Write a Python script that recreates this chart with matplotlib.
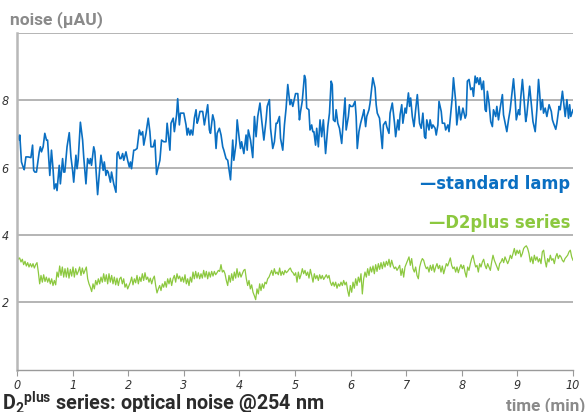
import numpy as np
import matplotlib
matplotlib.use("Agg")
import matplotlib.pyplot as plt
from matplotlib import font_manager

# --- data ------------------------------------------------------------------
# standard lamp (blue): time [min], noise [uAU]
lamp_t = [
    0.01, 0.04, 0.05, 0.08, 0.11, 0.13, 0.16, 0.20, 0.25, 0.28, 0.30, 0.32, 0.35, 0.40, 0.42, 0.44,
    0.47, 0.50, 0.53, 0.55, 0.59, 0.62, 0.65, 0.67, 0.70, 0.72, 0.76, 0.78, 0.82, 0.84, 0.86, 0.90,
    0.94, 0.97, 1.00, 1.02, 1.06, 1.08, 1.10, 1.14, 1.18, 1.20, 1.24, 1.27, 1.30, 1.32, 1.34, 1.38,
    1.40, 1.45, 1.49, 1.51, 1.55, 1.57, 1.60, 1.62, 1.64, 1.68, 1.70, 1.74, 1.78, 1.80, 1.82, 1.85,
    1.87, 1.90, 1.92, 1.96, 1.99, 2.02, 2.04, 2.06, 2.10, 2.12, 2.16, 2.20, 2.23, 2.26, 2.28, 2.32,
    2.36, 2.39, 2.41, 2.45, 2.48, 2.51, 2.54, 2.57, 2.60, 2.64, 2.68, 2.70, 2.72, 2.75, 2.77, 2.81,
    2.83, 2.87, 2.89, 2.92, 2.94, 2.96, 3.00, 3.04, 3.06, 3.08, 3.11, 3.13, 3.16, 3.19, 3.22, 3.24,
    3.26, 3.29, 3.31, 3.34, 3.37, 3.43, 3.46, 3.48, 3.52, 3.55, 3.58, 3.60, 3.64, 3.67, 3.70, 3.72,
    3.76, 3.79, 3.84, 3.88, 3.90, 3.94, 3.96, 4.00, 4.02, 4.04, 4.08, 4.12, 4.14, 4.16, 4.20, 4.24,
    4.27, 4.30, 4.33, 4.37, 4.40, 4.44, 4.48, 4.50, 4.54, 4.56, 4.60, 4.63, 4.66, 4.68, 4.72, 4.74,
    4.78, 4.81, 4.84, 4.87, 4.91, 4.93, 4.96,
    5.01, 5.05, 5.08, 5.10, 5.13, 5.17, 5.19, 5.21, 5.25, 5.27, 5.30, 5.32, 5.34, 5.37, 5.39, 5.42,
    5.45, 5.48, 5.51, 5.55, 5.59, 5.62, 5.65, 5.67, 5.69, 5.72, 5.74, 5.77, 5.80, 5.84, 5.87, 5.90,
    5.92, 5.96, 5.98, 6.00, 6.04, 6.08, 6.10, 6.12, 6.15, 6.18, 6.22, 6.24, 6.27, 6.29, 6.33, 6.35,
    6.40, 6.44, 6.46, 6.48, 6.52, 6.54, 6.57, 6.59, 6.63, 6.65, 6.69, 6.71, 6.75, 6.79, 6.81, 6.85,
    6.87, 6.89, 6.92, 6.94, 6.98, 7.00, 7.04, 7.06, 7.08, 7.11, 7.14, 7.17, 7.20, 7.24, 7.27, 7.30,
    7.33, 7.35, 7.37, 7.41, 7.43, 7.46, 7.48, 7.52, 7.54, 7.57, 7.59, 7.63, 7.65, 7.69, 7.71, 7.75,
    7.77, 7.79, 7.83, 7.85, 7.89, 7.91, 7.95, 7.98, 8.02, 8.06, 8.08, 8.10, 8.13, 8.16, 8.19, 8.21,
    8.24, 8.26, 8.28, 8.31, 8.33, 8.36, 8.39, 8.42, 8.44, 8.46, 8.49, 8.52, 8.55, 8.57, 8.61, 8.63,
    8.66, 8.69, 8.73, 8.75, 8.78, 8.81, 8.84, 8.87, 8.91, 8.93, 8.96, 8.98, 9.02, 9.04, 9.06, 9.09,
    9.11, 9.15, 9.17, 9.20, 9.22, 9.26, 9.28, 9.32, 9.35, 9.38, 9.40, 9.42, 9.45, 9.47, 9.50, 9.53,
    9.57, 9.61, 9.63, 9.65, 9.69, 9.71, 9.75, 9.77, 9.81, 9.83, 9.86, 9.89, 9.92, 9.94, 9.96, 10.00,
]
lamp_noise = [
    6.97, 6.82, 6.97, 6.17, 6.02, 5.94, 6.32, 6.32, 6.30, 6.67, 5.92, 5.87, 5.87, 6.47, 6.62, 6.47,
    6.62, 7.02, 6.82, 6.82, 5.77, 6.52, 5.92, 5.37, 5.52, 5.32, 6.07, 5.52, 6.27, 5.87, 5.87, 6.62,
    7.04, 6.32, 5.92, 5.57, 6.37, 5.97, 6.22, 7.35, 6.82, 6.32, 5.52, 6.27, 6.12, 6.27, 6.07, 6.62,
    6.47, 5.20, 6.02, 6.37, 5.92, 6.17, 5.77, 5.92, 5.87, 5.57, 5.87, 5.52, 5.27, 6.42, 6.47, 6.27,
    6.27, 6.42, 6.22, 6.47, 6.22, 6.02, 6.17, 5.97, 6.52, 6.52, 6.57, 7.12, 6.97, 7.07, 6.67, 7.02,
    7.47, 7.07, 6.62, 6.62, 6.82, 5.80, 6.02, 6.22, 6.82, 6.77, 6.77, 7.32, 7.02, 6.52, 7.32, 7.47,
    7.07, 7.57, 8.05, 7.27, 7.62, 7.62, 7.62, 7.27, 6.97, 7.17, 6.97, 7.12, 6.97, 7.47, 7.72, 7.32,
    7.42, 7.67, 7.67, 7.67, 7.27, 7.87, 7.12, 7.02, 7.57, 7.37, 6.57, 7.02, 7.17, 6.97, 6.62, 6.52,
    6.27, 6.22, 5.64, 6.82, 6.22, 6.72, 7.42, 6.82, 6.57, 6.77, 6.42, 6.97, 6.52, 7.12, 6.82, 6.30,
    7.52, 6.92, 7.52, 7.92, 7.42, 6.82, 7.42, 7.82, 8.02, 7.17, 6.57, 6.77, 7.32, 7.32, 7.52, 6.87,
    6.52, 7.27, 7.77, 8.47, 7.87, 8.02, 7.82,
    8.20, 8.20, 7.42, 7.67, 7.97, 8.74, 8.62, 7.77, 7.72, 7.12, 7.27, 7.07, 7.07, 6.67, 7.17, 6.62,
    7.42, 6.92, 7.42, 6.42, 7.22, 7.62, 8.57, 8.47, 7.42, 7.37, 7.72, 7.32, 7.17, 6.72, 7.42, 8.07,
    7.12, 7.52, 7.87, 7.82, 7.82, 7.97, 7.52, 6.57, 7.07, 7.32, 7.57, 7.72, 7.22, 7.52, 7.72, 7.92,
    8.67, 8.37, 7.87, 7.62, 7.47, 7.12, 6.57, 7.27, 7.37, 7.22, 7.02, 7.62, 7.92, 7.32, 6.92, 7.42,
    7.12, 7.57, 7.87, 7.32, 7.77, 7.62, 8.22, 7.82, 8.07, 7.52, 7.22, 7.72, 8.17, 7.32, 7.17, 7.62,
    6.92, 6.87, 7.42, 7.12, 7.42, 7.17, 7.27, 7.17, 6.97, 7.27, 7.97, 7.67, 7.32, 7.32, 7.12, 7.27,
    7.07, 7.42, 8.12, 8.67, 7.97, 7.27, 7.82, 7.42, 7.77, 7.47, 7.57, 8.57, 8.62, 8.32, 8.37, 8.12,
    8.72, 8.52, 8.67, 8.47, 8.67, 8.32, 8.57, 7.72, 7.67, 8.27, 7.92, 7.37, 7.22, 7.72, 7.52, 7.82,
    7.42, 7.77, 8.17, 7.57, 7.32, 7.07, 7.42, 7.72, 8.32, 8.64, 8.02, 7.42, 7.72, 7.57, 8.07, 8.62,
    8.22, 7.37, 7.57, 8.07, 8.42, 7.72, 7.37, 7.07, 7.72, 8.62, 8.22, 7.72, 8.02, 7.62, 7.77, 7.52,
    7.87, 7.67, 7.42, 7.32, 7.14, 7.32, 7.82, 7.72, 8.27, 7.97, 7.52, 8.02, 7.47, 7.87, 7.52, 7.72,
]

# D2plus series (green): evenly sampled over 0..10 min
d2plus_noise = [
    3.40, 3.28, 3.32, 3.20, 3.28, 3.12, 3.22, 3.08, 3.18, 3.05, 3.15, 3.05, 3.15, 3.02, 3.12, 3.18,
    2.90, 2.55, 2.80, 2.60, 2.82, 2.62, 2.75, 2.60, 2.72, 2.55, 2.70, 2.50, 2.65, 2.52, 2.90,
    2.75, 3.08, 2.80, 3.05, 2.75, 3.00, 2.75, 3.02, 2.72, 2.98, 2.78, 3.05, 2.75, 3.00, 2.82, 2.92,
    3.05, 2.80, 3.02, 2.85, 2.95, 3.05,
    2.70, 2.55, 2.45, 2.32, 2.55, 2.40, 2.65, 2.52, 2.70, 2.55, 2.75, 2.60, 2.85, 2.62, 2.82, 2.55,
    2.85, 2.60, 2.80, 2.55, 2.75, 2.52, 2.72, 2.50, 2.70, 2.75, 2.55, 2.70, 2.45, 2.55, 2.40,
    2.50, 2.60, 2.75, 2.52, 2.70, 2.58, 2.80, 2.55, 2.75, 2.62, 2.85, 2.65, 2.88, 2.68, 2.75, 2.60,
    2.72, 2.55, 2.70, 2.78,
    2.50, 2.28, 2.40, 2.50, 2.35, 2.55, 2.45, 2.62, 2.45, 2.70, 2.55, 2.72, 2.50, 2.70, 2.80, 2.60,
    2.85, 2.70, 2.78, 2.62, 2.75, 2.60, 2.82,
    2.55, 2.70, 2.50, 2.75, 2.60, 2.90, 2.70, 2.92, 2.72, 2.88, 2.70, 2.85, 2.72, 2.95, 2.75, 2.92,
    2.70, 2.90, 2.75, 2.92, 2.78, 2.92, 2.82, 2.88, 2.95, 2.92, 3.12, 2.90, 2.95,
    2.85, 2.65, 2.50, 2.80, 2.60, 2.85, 2.65, 2.90, 2.72, 3.00, 2.75, 2.90, 2.75, 2.85, 2.95, 2.98,
    2.70, 2.50, 2.65, 2.40, 2.52, 2.30, 2.20, 2.08, 2.40, 2.25, 2.55, 2.35, 2.55, 2.42, 2.60, 2.55,
    2.70, 2.75,
    2.85, 2.95, 2.80, 3.00, 2.85, 2.90, 2.82, 3.02, 2.80, 2.92, 2.82, 2.95, 2.88, 2.92, 2.98, 3.02,
    2.92, 2.88, 2.80, 2.88,
    2.60, 2.90, 2.70, 2.82, 3.00, 2.85, 2.95, 2.80, 2.90, 2.72, 2.98, 2.80, 2.60, 2.85, 2.70, 2.80,
    2.65, 2.82, 2.70, 2.80, 2.68, 2.75, 2.82, 2.72, 2.80, 2.60,
    2.50, 2.60, 2.48, 2.60, 2.42, 2.55, 2.48, 2.60, 2.50, 2.65, 2.52, 2.60, 2.35, 2.18, 2.50, 2.30,
    2.60, 2.42, 2.70, 2.50, 2.75, 2.60, 2.85, 2.25, 2.70, 2.90, 2.75, 3.00, 2.80, 3.05, 2.90, 3.08,
    2.85, 3.12, 2.92, 3.15, 2.98, 3.18, 3.00, 3.20, 3.05, 3.22, 3.10, 3.28, 3.05, 3.25,
    3.10, 3.00, 3.05, 2.95, 3.02, 3.10, 2.80, 3.00, 2.75, 3.05, 3.15, 3.25, 3.35, 3.10, 3.30, 3.00,
    2.90, 3.05, 2.80, 2.70, 3.05, 3.20, 3.30, 3.25, 3.10, 3.00, 3.05, 2.90, 3.10, 2.95, 3.12, 2.90,
    3.05, 3.15, 3.00, 3.10, 2.90, 3.08, 2.85, 3.00, 3.15, 3.08, 3.20, 3.32, 3.10, 3.00, 3.05, 2.90,
    3.05, 2.88, 3.02, 3.12, 3.00, 3.10, 2.90, 2.75, 3.05, 2.95, 3.15, 3.30, 3.40, 3.20, 3.05, 3.10,
    2.90, 3.15, 3.05, 3.20, 3.28, 3.10, 3.00, 3.15, 3.05, 2.95, 3.20, 3.40, 3.25, 3.15, 3.05, 2.95,
    3.15, 3.20, 3.30, 3.18, 3.35, 3.25, 3.15, 3.25, 3.40, 3.30, 3.45, 3.60, 3.40, 3.55, 3.45, 3.55,
    3.35, 3.45, 3.60, 3.65, 3.68, 3.60,
    3.45, 3.20, 3.35, 3.15, 3.40, 3.25, 3.35, 3.20, 3.30, 3.15, 3.50, 3.55, 3.25, 3.05, 3.30, 3.20,
    3.40, 3.25, 3.30, 3.15, 3.35, 3.45, 3.30, 3.40, 3.35, 3.25, 3.20, 3.30, 3.35, 3.40, 3.50, 3.55,
    3.35, 3.25,
]
d2plus_t = np.linspace(0, 10, len(d2plus_noise))

x_ticks = list(range(0, 11))
y_ticks = [2, 4, 6, 8]

# --- fonts / colours --------------------------------------------------------
names = {f.name for f in font_manager.fontManager.ttflist}


def pick_condensed(bold):
    # look for an installed narrow/condensed face, else plain DejaVu
    for f in font_manager.fontManager.ttflist:
        nm = f.name.lower()
        st = str(f.stretch).lower()
        narrowish = ("condensed" in nm or "narrow" in nm or "condensed" in st or "narrow" in st)
        isbold = f.weight in ("bold", 700, 600, "semibold", "demibold") or \
            (isinstance(f.weight, int) and f.weight >= 600)
        if narrowish and isbold == bold and "mono" not in nm and "serif" not in nm:
            return font_manager.FontProperties(fname=f.fname)
    return font_manager.FontProperties(family="DejaVu Sans",
                                       weight="bold" if bold else "normal",
                                       stretch="condensed")


cond_bold = pick_condensed(True)
cond_reg = pick_condensed(False)
label_font = "Roboto" if "Roboto" in names else "DejaVu Sans"

BLUE = "#0a6fc2"
GREEN = "#8cc83f"
GRID = "#a8a8a8"
GREY_TXT = "#8a8a8a"

plt.rcParams["mathtext.fontset"] = "custom"
plt.rcParams["mathtext.rm"] = label_font
plt.rcParams["mathtext.bf"] = label_font + ":bold"

fig = plt.figure(figsize=(5.85, 4.12), dpi=100)
ax = fig.add_axes([17 / 585, 1 - 369.7 / 412, 556 / 585, 336.7 / 412])

ax.plot(lamp_t, lamp_noise, color=BLUE, lw=1.2, solid_joinstyle="round")
ax.plot(d2plus_t, d2plus_noise, color=GREEN, lw=0.9)

ax.set_xlim(0, 10)
ax.set_ylim(0, 10)

# horizontal grid (including the top line at 10)
for yv in y_ticks + [10]:
    ax.axhline(yv, color=GRID, lw=1.2, zorder=0)

for side in ["top", "right"]:
    ax.spines[side].set_visible(False)
ax.spines["left"].set_color("#b8b8b8")
ax.spines["left"].set_linewidth(1.8)
ax.spines["bottom"].set_color("#9a9a9a")
ax.spines["bottom"].set_linewidth(1.0)

ax.set_xticks(x_ticks)
ax.set_xticklabels([str(v) for v in x_ticks], fontproperties=cond_reg, fontsize=9,
                   color="#333333")
ax.tick_params(axis="x", direction="out", length=4, width=0.8, color="#9a9a9a", pad=3)
ax.set_yticks(y_ticks)
ax.set_yticklabels([str(v) for v in y_ticks], fontproperties=cond_reg, fontsize=9,
                   color="#333333")
ax.tick_params(axis="y", length=0, pad=6)

# series labels
lab1 = ax.text(9.95, 5.37, "\u2014standard lamp", color=BLUE, fontproperties=cond_bold,
               fontsize=16.5, ha="right", va="baseline")
lab2 = ax.text(9.95, 4.21, "\u2014D2plus series", color=GREEN, fontproperties=cond_bold,
               fontsize=16.5, ha="right", va="baseline")

# axis captions and title
t_noise = fig.text(10 / 585, 1 - 24 / 412, "noise (\u00b5AU)", family=label_font,
                   weight="bold", fontsize=12.5, color=GREY_TXT, ha="left", va="baseline")
t_time = fig.text(585 / 585, 1 - 410 / 412, "time (min)", family=label_font, weight="bold",
                  fontsize=12.5, color=GREY_TXT, ha="right", va="baseline")
t_title = fig.text(2 / 585, 1 - 410.5 / 412,
                   r"$\mathbf{D_2{}^{plus}}$ series: optical noise @254 nm",
                   family=label_font, weight="bold", fontsize=12.5, color="#2b2b2b",
                   ha="left", va="baseline")

# scale the font size of each text so its width matches the reference
renderer = fig.canvas.get_renderer()
for txt, width_px in [(lab1, 150), (lab2, 142), (t_noise, 93), (t_time, 80),
                      (t_title, 323)]:
    w = txt.get_window_extent(renderer).width
    txt.set_fontsize(txt.get_fontsize() * width_px / w)

fig.savefig("out.png", dpi=100)
